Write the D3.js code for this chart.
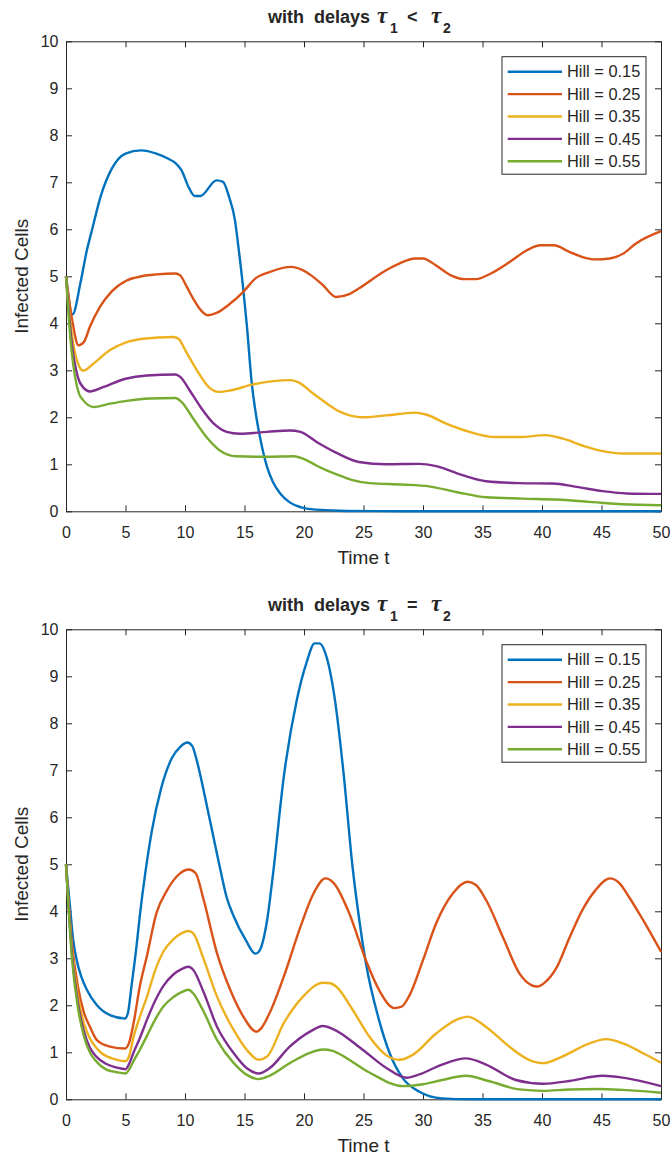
<!DOCTYPE html>
<html>
<head>
<meta charset="utf-8">
<script src="https://cdn.jsdelivr.net/npm/d3@7"></script>
<style>
  html, body { margin: 0; padding: 0; background: #fff; }
  svg { display: block; }
  text { font-family: "Liberation Sans", Arial, Helvetica, sans-serif; fill: #262626; }
</style>
</head>
<body>
<svg id="fig" width="672" height="1157"></svg>
<script>
// ---- labels and ticks ----
const hillLabels = ["Hill = 0.15", "Hill = 0.25", "Hill = 0.35", "Hill = 0.45", "Hill = 0.55"];
const timeTicks = [0, 5, 10, 15, 20, 25, 30, 35, 40, 45, 50];
const cellTicks = [0, 1, 2, 3, 4, 5, 6, 7, 8, 9, 10];

// ---- infected cells, delays tau1 < tau2 : [time, value] ----
const lessHill015 = [[0,5],[0.55,4.19],[1.2,4.84],[1.75,5.55],[2.2,6.0],[2.9,6.69],[3.85,7.29],[5.0,7.61],[6.3,7.68],[7.6,7.61],[8.6,7.5],[9.2,7.41],[9.7,7.26],[10.3,6.9],[10.8,6.71],[11.3,6.71],[12.65,7.04],[13.2,7.01],[13.7,6.69],[14.2,6.19],[14.5,5.6],[14.85,4.84],[15.2,3.95],[15.6,2.75],[16.0,2.0],[16.3,1.58],[16.9,0.94],[17.4,0.62],[18.0,0.38],[18.8,0.19],[19.7,0.09],[21,0.035],[23,0.012],[26,0.003],[30,0],[50,0]];
const lessHill025 = [[0,5],[0.5,4.1],[1.05,3.53],[1.5,3.6],[2.0,3.92],[2.85,4.35],[3.85,4.68],[5.1,4.91],[6.35,5.0],[7.6,5.04],[9.2,5.06],[9.6,5.02],[10.1,4.8],[10.7,4.52],[11.4,4.26],[11.95,4.17],[12.65,4.22],[13.8,4.42],[14.9,4.67],[15.9,4.95],[17.1,5.09],[18.95,5.2],[19.8,5.14],[20.6,5.02],[21.6,4.81],[22.7,4.56],[23.8,4.62],[24.6,4.74],[26.9,5.13],[28.0,5.27],[29.3,5.38],[30.0,5.38],[31.1,5.23],[32.35,5.02],[33.5,4.94],[34.45,4.94],[35.7,5.06],[37.25,5.3],[38.7,5.55],[39.9,5.66],[41.0,5.66],[42.3,5.52],[43.4,5.41],[44.5,5.36],[45.7,5.38],[46.8,5.48],[47.9,5.7],[50,5.96]];
const lessHill035 = [[0,5],[0.5,3.75],[1.0,3.15],[1.45,2.99],[2.3,3.14],[3.7,3.43],[5.0,3.59],[6.5,3.67],[9.0,3.71],[9.45,3.67],[10.1,3.39],[11.0,3.0],[12.0,2.64],[12.8,2.54],[13.8,2.57],[15.7,2.7],[17.4,2.77],[18.8,2.79],[19.5,2.75],[20.8,2.5],[22.0,2.28],[23.0,2.12],[24.0,2.03],[24.9,2.0],[26.9,2.04],[29.3,2.1],[30.25,2.06],[31.9,1.87],[33.9,1.69],[36.1,1.58],[38.1,1.58],[40.3,1.62],[41.7,1.55],[43.4,1.4],[45.1,1.28],[46.8,1.23],[50,1.23]];
const lessHill045 = [[0,5],[0.5,3.55],[1.0,2.85],[1.5,2.62],[2.0,2.55],[3.1,2.64],[5.0,2.82],[6.8,2.89],[9.2,2.91],[9.6,2.86],[10.4,2.57],[11.3,2.22],[12.4,1.87],[13.5,1.69],[14.6,1.65],[16.9,1.69],[18.8,1.72],[19.7,1.69],[21.1,1.47],[22.6,1.26],[24.6,1.05],[26.9,1.0],[29.7,1.01],[31.1,0.96],[33.3,0.77],[35.3,0.64],[38.1,0.6],[40.9,0.59],[42.9,0.52],[45.1,0.43],[47.1,0.38],[50,0.37]];
const lessHill055 = [[0,5],[0.4,3.6],[0.76,2.86],[1.1,2.5],[1.46,2.36],[2.3,2.22],[3.7,2.29],[5.1,2.35],[7.0,2.4],[9.2,2.41],[9.7,2.33],[10.7,1.97],[11.8,1.58],[12.9,1.3],[14.3,1.17],[16.9,1.16],[19.1,1.17],[20.2,1.09],[21.0,0.98],[21.9,0.87],[22.8,0.78],[24.0,0.67],[25.5,0.6],[28.3,0.57],[30.5,0.53],[32.8,0.41],[35.3,0.3],[38.4,0.27],[41.2,0.25],[44.0,0.2],[46.8,0.15],[50,0.13]];

// ---- infected cells, delays tau1 = tau2 : [time, value] ----
const equalHill015 = [[0,5],[0.3,4.2],[0.6,3.4],[0.9,2.96],[1.3,2.6],[1.75,2.33],[2.6,2.0],[3.7,1.79],[4.95,1.72],[5.2,1.83],[5.5,2.4],[5.9,3.2],[6.2,3.9],[6.7,4.88],[7.2,5.69],[8.0,6.62],[8.9,7.26],[9.6,7.5],[10.2,7.59],[10.6,7.52],[11.0,7.2],[11.5,6.65],[12.0,6.05],[12.5,5.45],[13.0,4.85],[13.5,4.3],[14.1,3.89],[15.1,3.39],[15.9,3.1],[16.2,3.14],[16.9,3.81],[17.4,4.8],[18.3,6.86],[19.4,8.5],[20.2,9.28],[20.9,9.7],[21.3,9.7],[21.8,9.49],[22.6,8.5],[23.3,7.0],[24.1,4.9],[24.6,3.9],[25.2,2.9],[26.3,1.69],[27.2,0.98],[28.3,0.45],[29.7,0.16],[31.6,0.02],[34,0],[50,0]];
const equalHill025 = [[0,5],[0.5,3.3],[1.0,2.4],[1.5,1.85],[2.0,1.55],[2.6,1.26],[3.7,1.12],[4.95,1.08],[5.3,1.2],[5.7,1.65],[6.2,2.4],[6.8,3.05],[7.6,3.96],[8.5,4.45],[9.3,4.74],[10.3,4.89],[10.9,4.81],[11.5,4.31],[12.7,3.1],[13.8,2.33],[14.9,1.76],[16.0,1.44],[16.4,1.51],[17.1,1.83],[18.3,2.61],[19.7,3.67],[20.8,4.38],[21.8,4.7],[22.5,4.6],[23.8,3.96],[25.2,2.96],[26.3,2.33],[27.6,1.94],[28.2,1.97],[28.8,2.18],[30.0,2.96],[31.1,3.74],[32.5,4.38],[33.75,4.63],[34.45,4.56],[35.3,4.24],[36.7,3.46],[38.1,2.68],[39.1,2.43],[39.6,2.4],[40.3,2.5],[41.2,2.79],[42.3,3.43],[43.4,4.03],[44.5,4.45],[45.7,4.7],[46.5,4.6],[47.3,4.31],[48.5,3.81],[50,3.14]];
const equalHill035 = [[0,5],[0.5,3.2],[1.0,2.2],[1.5,1.62],[2.0,1.3],[2.6,1.08],[3.0,0.98],[4.0,0.86],[5.0,0.81],[5.3,0.92],[5.7,1.35],[6.2,1.75],[6.8,2.18],[7.5,2.75],[8.2,3.15],[9.0,3.4],[9.7,3.53],[10.3,3.58],[10.7,3.53],[11.5,3.03],[12.7,2.18],[14.1,1.47],[15.2,1.05],[16.2,0.84],[16.9,0.91],[18.3,1.62],[19.9,2.18],[21.6,2.48],[22.2,2.47],[22.7,2.4],[24.1,1.9],[25.5,1.33],[26.9,0.94],[28.0,0.84],[29.1,0.94],[31.1,1.4],[32.8,1.69],[33.75,1.76],[35.3,1.54],[37.25,1.12],[38.9,0.84],[40.1,0.77],[41.7,0.91],[44.0,1.19],[45.4,1.28],[46.8,1.19],[48.5,0.98],[50,0.78]];
const equalHill045 = [[0,5],[0.5,3.1],[1.0,2.05],[1.5,1.45],[2.0,1.1],[2.5,0.92],[3.4,0.75],[4.2,0.68],[5.0,0.64],[5.3,0.75],[5.65,0.98],[6.2,1.3],[6.8,1.69],[7.5,2.1],[8.2,2.42],[9.0,2.65],[9.7,2.77],[10.3,2.82],[10.7,2.75],[11.5,2.32],[12.7,1.54],[14.1,0.98],[15.2,0.66],[16.2,0.55],[17.1,0.66],[18.8,1.12],[20.5,1.44],[21.6,1.56],[22.4,1.5],[24.9,1.06],[26.9,0.67],[28.6,0.46],[29.7,0.53],[31.6,0.74],[33.6,0.87],[35.3,0.74],[37.8,0.41],[40.1,0.33],[42.3,0.39],[45.1,0.5],[46.8,0.46],[50,0.28]];
const equalHill055 = [[0,5],[0.5,3.0],[1.0,1.95],[1.5,1.35],[2.0,1.0],[2.5,0.82],[3.4,0.63],[4.2,0.58],[5.0,0.55],[5.3,0.63],[5.65,0.8],[6.2,1.05],[6.8,1.35],[7.5,1.7],[8.2,1.98],[9.0,2.17],[9.7,2.28],[10.3,2.33],[10.7,2.25],[11.5,1.9],[12.7,1.26],[14.1,0.77],[15.2,0.52],[16.2,0.43],[17.1,0.5],[18.8,0.77],[20.5,0.99],[21.6,1.06],[22.4,1.03],[22.7,1.0],[25.5,0.57],[28.3,0.28],[30.0,0.32],[31.6,0.41],[33.6,0.5],[35.5,0.39],[38.1,0.21],[40.1,0.18],[42.3,0.21],[44.8,0.22],[46.8,0.2],[50,0.14]];

// ---- styling ----
const palette = ["#0072BD", "#D95319", "#EDB120", "#7E2F8E", "#77AC30"];
const axisColor = "#262626";

const panels = [
  { top: 41.3, relation: "<", series: [lessHill015, lessHill025, lessHill035, lessHill045, lessHill055] },
  { top: 629.3, relation: "=", series: [equalHill015, equalHill025, equalHill035, equalHill045, equalHill055] }
];

const svg = d3.select("#fig");
svg.append("rect").attr("width", 672).attr("height", 1157).attr("fill", "#fff");

const plotLeft = 66, plotRight = 661, plotHeight = 470;
const serif = '"Liberation Serif", "Times New Roman", serif';

function styleAxis(g) {
  g.select(".domain").attr("stroke", axisColor).attr("stroke-width", 1);
  g.selectAll(".tick line").attr("stroke", axisColor).attr("stroke-width", 1);
  g.selectAll(".tick text").attr("fill", axisColor).style("font-size", "16px")
    .style("font-family", '"Liberation Sans", Arial, sans-serif');
}

function drawPanel(cfg) {
  const x = d3.scaleLinear().domain([0, 50]).range([plotLeft, plotRight]);
  const y = d3.scaleLinear().domain([0, 10]).range([cfg.top + plotHeight, cfg.top]);
  const g = svg.append("g");

  // box axes with inward ticks
  g.append("g").attr("transform", `translate(0,${y(0)})`)
    .call(d3.axisBottom(x).tickValues(timeTicks).tickSizeInner(-6).tickSizeOuter(0).tickPadding(15.5))
    .call(styleAxis);
  g.append("g").attr("transform", `translate(0,${y(10)})`)
    .call(d3.axisTop(x).tickValues(timeTicks).tickSizeInner(-6).tickSizeOuter(0).tickFormat(""))
    .call(styleAxis);
  g.append("g").attr("transform", `translate(${x(0)},0)`)
    .call(d3.axisLeft(y).tickValues(cellTicks).tickSizeInner(-6).tickSizeOuter(0).tickPadding(7.5))
    .call(styleAxis);
  g.append("g").attr("transform", `translate(${x(50)},0)`)
    .call(d3.axisRight(y).tickValues(cellTicks).tickSizeInner(-6).tickSizeOuter(0).tickFormat(""))
    .call(styleAxis);

  // curves
  const line = d3.line().x(d => x(d[0])).y(d => y(d[1])).curve(d3.curveMonotoneX);
  cfg.series.forEach((s, i) => {
    g.append("path").attr("d", line(s)).attr("fill", "none")
      .attr("stroke", palette[i]).attr("stroke-width", 2.4)
      .attr("stroke-linejoin", "round").attr("stroke-linecap", "butt");
  });

  // axis labels
  g.append("text").attr("x", (plotLeft + plotRight) / 2).attr("y", y(0) + 53)
    .attr("text-anchor", "middle").style("font-size", "19px").text("Time t");
  g.append("text").attr("transform", `translate(28,${cfg.top + plotHeight / 2}) rotate(-90)`)
    .attr("text-anchor", "middle").style("font-size", "19px").text("Infected Cells");

  // title: "with  delays τ1 <|= τ2"
  const ty = cfg.top - 18;
  const title = g.append("text").attr("y", ty).attr("xml:space", "preserve")
    .style("font-size", "18px").style("font-weight", "bold").attr("fill", "#000");
  title.append("tspan").attr("x", 268).text("with  delays");
  title.append("tspan").attr("x", 377).attr("y", ty).style("font-family", serif)
    .style("font-style", "italic").style("font-size", "23px").text("\u03C4");
  title.append("tspan").attr("x", 390).attr("y", ty + 9.5).style("font-size", "14px").text("1");
  title.append("tspan").attr("x", 407).attr("y", ty).text(cfg.relation);
  title.append("tspan").attr("x", 431).attr("y", ty).style("font-family", serif)
    .style("font-style", "italic").style("font-size", "23px").text("\u03C4");
  title.append("tspan").attr("x", 443).attr("y", ty + 9.5).style("font-size", "14px").text("2");

  // legend
  const lg = g.append("g").attr("transform", `translate(502,${cfg.top + 15.4})`);
  lg.append("rect").attr("width", 144).attr("height", 117.5)
    .attr("fill", "#fff").attr("stroke", axisColor).attr("stroke-width", 1);
  hillLabels.forEach((lab, i) => {
    const cy = 15 + i * 22.4;
    lg.append("line").attr("x1", 5.7).attr("x2", 60).attr("y1", cy).attr("y2", cy)
      .attr("stroke", palette[i]).attr("stroke-width", 2.4);
    lg.append("text").attr("x", 65).attr("y", cy).attr("dy", "0.35em")
      .style("font-size", "16.4px").attr("fill", "#000").text(lab);
  });
}

panels.forEach(drawPanel);
</script>
</body>
</html>
